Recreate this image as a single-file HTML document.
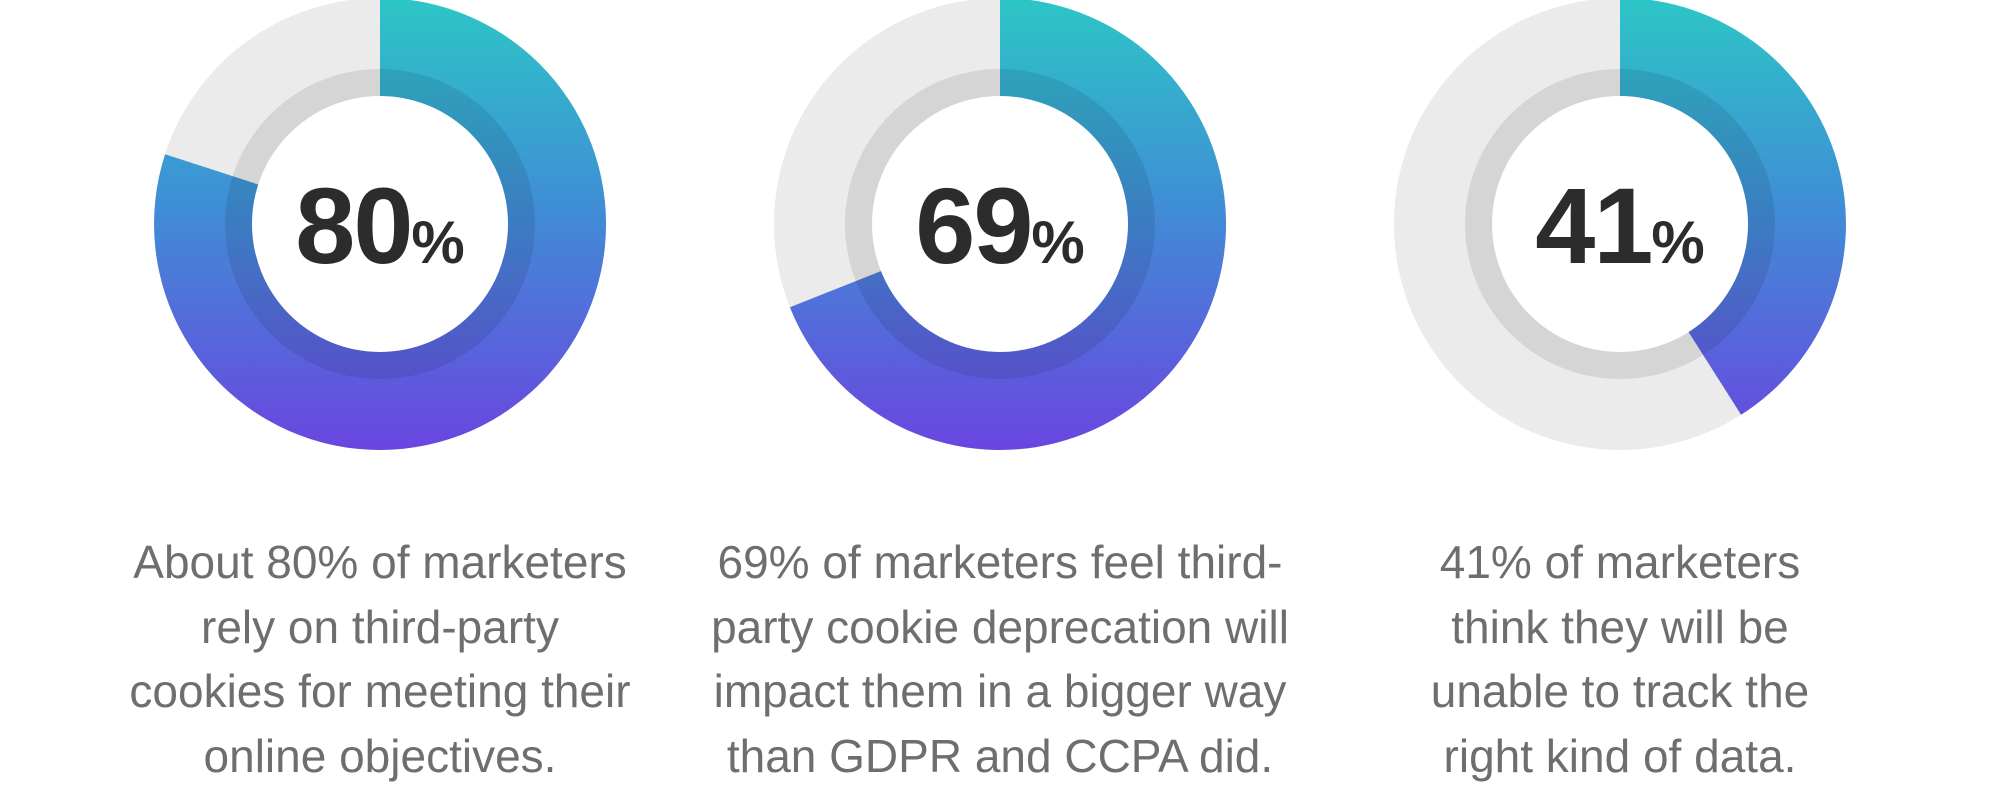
<!DOCTYPE html>
<html><head><meta charset="utf-8"><style>
html,body{margin:0;padding:0;background:#fff;}
body{width:2000px;height:796px;position:relative;overflow:hidden;font-family:"Liberation Sans",sans-serif;}
.num{position:absolute;top:226px;width:300px;margin-left:-150px;text-align:center;transform:translateY(-50%);color:#2c2c2c;font-weight:bold;font-size:108px;letter-spacing:-2px;line-height:1;}
.num span{font-size:60px;letter-spacing:0;}
.cap{position:absolute;top:530px;width:640px;margin-left:-320px;text-align:center;color:#6e6e6e;font-size:46px;line-height:64.5px;}
</style></head><body>
<svg width="2000" height="460" style="position:absolute;left:0;top:0">
<defs><linearGradient id="g" gradientUnits="userSpaceOnUse" x1="0" y1="-226" x2="0" y2="226">
<stop offset="0" stop-color="#2cc6c6"/><stop offset="0.45" stop-color="#3f8fd5"/><stop offset="1" stop-color="#6a45e0"/></linearGradient></defs>
<g transform="translate(380,224)">
<circle r="226" fill="#ebebeb"/>
<path d="M0,0 L0,-226 A226,226 0 1 1 -214.9,-69.8 Z" fill="url(#g)"/>
<circle r="155" fill="rgba(0,0,0,0.09)"/><circle r="128" fill="#fff"/></g>
<g transform="translate(1000,224)">
<circle r="226" fill="#ebebeb"/>
<path d="M0,0 L0,-226 A226,226 0 1 1 -210.1,83.2 Z" fill="url(#g)"/>
<circle r="155" fill="rgba(0,0,0,0.09)"/><circle r="128" fill="#fff"/></g>
<g transform="translate(1620,224)">
<circle r="226" fill="#ebebeb"/>
<path d="M0,0 L0,-226 A226,226 0 0 1 121.1,190.8 Z" fill="url(#g)"/>
<circle r="155" fill="rgba(0,0,0,0.09)"/><circle r="128" fill="#fff"/></g>
</svg>
<div class="num" style="left:380px">80<span>%</span></div>
<div class="num" style="left:1000px">69<span>%</span></div>
<div class="num" style="left:1620px">41<span>%</span></div>
<div class="cap" style="left:380px">About 80% of marketers<br>rely on third-party<br>cookies for meeting their<br>online objectives.</div>
<div class="cap" style="left:1000px">69% of marketers feel third-<br>party cookie deprecation will<br>impact them in a bigger way<br>than GDPR and CCPA did.</div>
<div class="cap" style="left:1620px">41% of marketers<br>think they will be<br>unable to track the<br>right kind of data.</div>
</body></html>
